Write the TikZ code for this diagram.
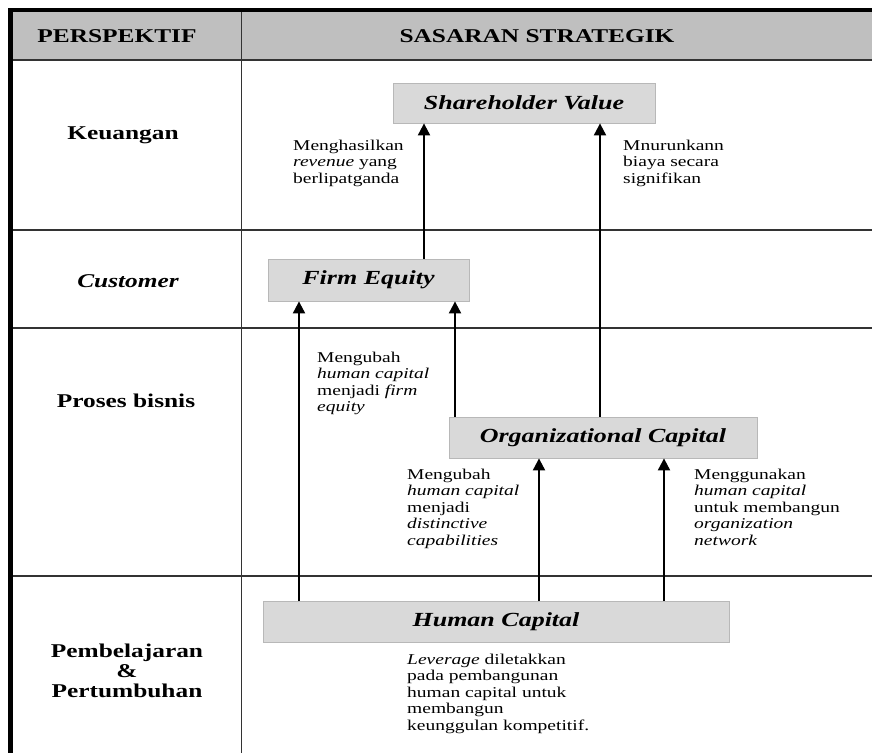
\documentclass[tikz,border=0pt]{standalone}
\usepackage{fontspec}
\setmainfont{Liberation Serif}[FakeStretch=1.3]
\usetikzlibrary{arrows.meta}

\begin{document}
\begin{tikzpicture}[x=1pt,y=-1pt,
  grid/.style={line width=1.8pt,color=black!80},
  head/.style={font=\fontsize{19.5}{22}\selectfont\bfseries},
  persp/.style={font=\fontsize{19.5}{21}\selectfont\bfseries,align=center},
  goal/.style={draw=black!28,fill=black!15,line width=0.8pt,inner sep=0pt,
    font=\fontsize{20}{24}\selectfont\bfseries\itshape},
  note/.style={anchor=north west,align=left,inner sep=0pt,
    font=\fontsize{15}{16.5}\selectfont},
  arr/.style={line width=2pt,-{Triangle[length=12pt,width=12pt]}}]
\useasboundingbox (0,0) rectangle (872,753);

% table
\fill[black!25] (10,10) rectangle (872,60);
\draw[grid] (10,60) -- (872,60);
\draw[grid] (10,230) -- (872,230);
\draw[grid] (10,328) -- (872,328);
\draw[grid] (10,576) -- (872,576);
\draw[grid] (241.5,10) -- (241.5,753);
\draw[line width=4pt] (8,10) -- (872,10);
\draw[line width=5pt] (10.5,8) -- (10.5,753);

\node[head] (hp) at (117,36) {PERSPEKTIF};
\node[head] (hs) at (537,36) {SASARAN STRATEGIK};

\node[persp] (pk) at (123,135) {Keuangan};
\node[persp,font=\fontsize{19.5}{21}\selectfont\bfseries\itshape] (pc) at (128,281) {Customer};
\node[persp] (pb) at (126,401) {Proses bisnis};
\node[persp] (pp) at (127,671) {Pembelajaran\\[-1pt]\&\\[-1pt]Pertumbuhan};

% sasaran
\node[goal,minimum width=262pt,minimum height=40pt] (sv) at (524,103) {Shareholder Value};
\node[goal,minimum width=201pt,minimum height=42pt] (fe) at (368.5,280) {Firm Equity};
\node[goal,minimum width=308pt,minimum height=41pt] (oc) at (603,437.5) {Organizational Capital};
\node[goal,minimum width=466pt,minimum height=41pt] (hc) at (496,621.5) {Human Capital};

\coordinate (a1) at (299,0);
\coordinate (a2) at (455,0);
\coordinate (a3) at (424,0);
\coordinate (a4) at (600,0);
\coordinate (a5) at (539,0);
\coordinate (a6) at (664,0);
\draw[arr] (hc.north -| a1) -- (fe.south -| a1);
\draw[arr] (oc.north -| a2) -- (fe.south -| a2);
\draw[arr] (fe.north -| a3) -- (sv.south -| a3);
\draw[arr] (oc.north -| a4) -- (sv.south -| a4);
\draw[arr] (hc.north -| a5) -- (oc.south -| a5);
\draw[arr] (hc.north -| a6) -- (oc.south -| a6);

\node[note] (t1) at (293,139.5) {Menghasilkan\\\textit{revenue} yang\\berlipatganda};
\node[note] (t2) at (623,139.5) {Mnurunkann\\biaya secara\\signifikan};
\node[note] (t3) at (317,351.5) {Mengubah\\\textit{human capital}\\menjadi \textit{firm}\\\textit{equity}};
\node[note] (t4) at (407,468.5) {Mengubah\\\textit{human capital}\\menjadi\\\textit{distinctive}\\\textit{capabilities}};
\node[note] (t5) at (694,468.5) {Menggunakan\\\textit{human capital}\\untuk membangun\\\textit{organization}\\\textit{network}};
\node[note] (t6) at (407,653.5) {\textit{Leverage} diletakkan\\pada pembangunan\\human capital untuk\\membangun\\keunggulan kompetitif.};
\end{tikzpicture}
\end{document}
